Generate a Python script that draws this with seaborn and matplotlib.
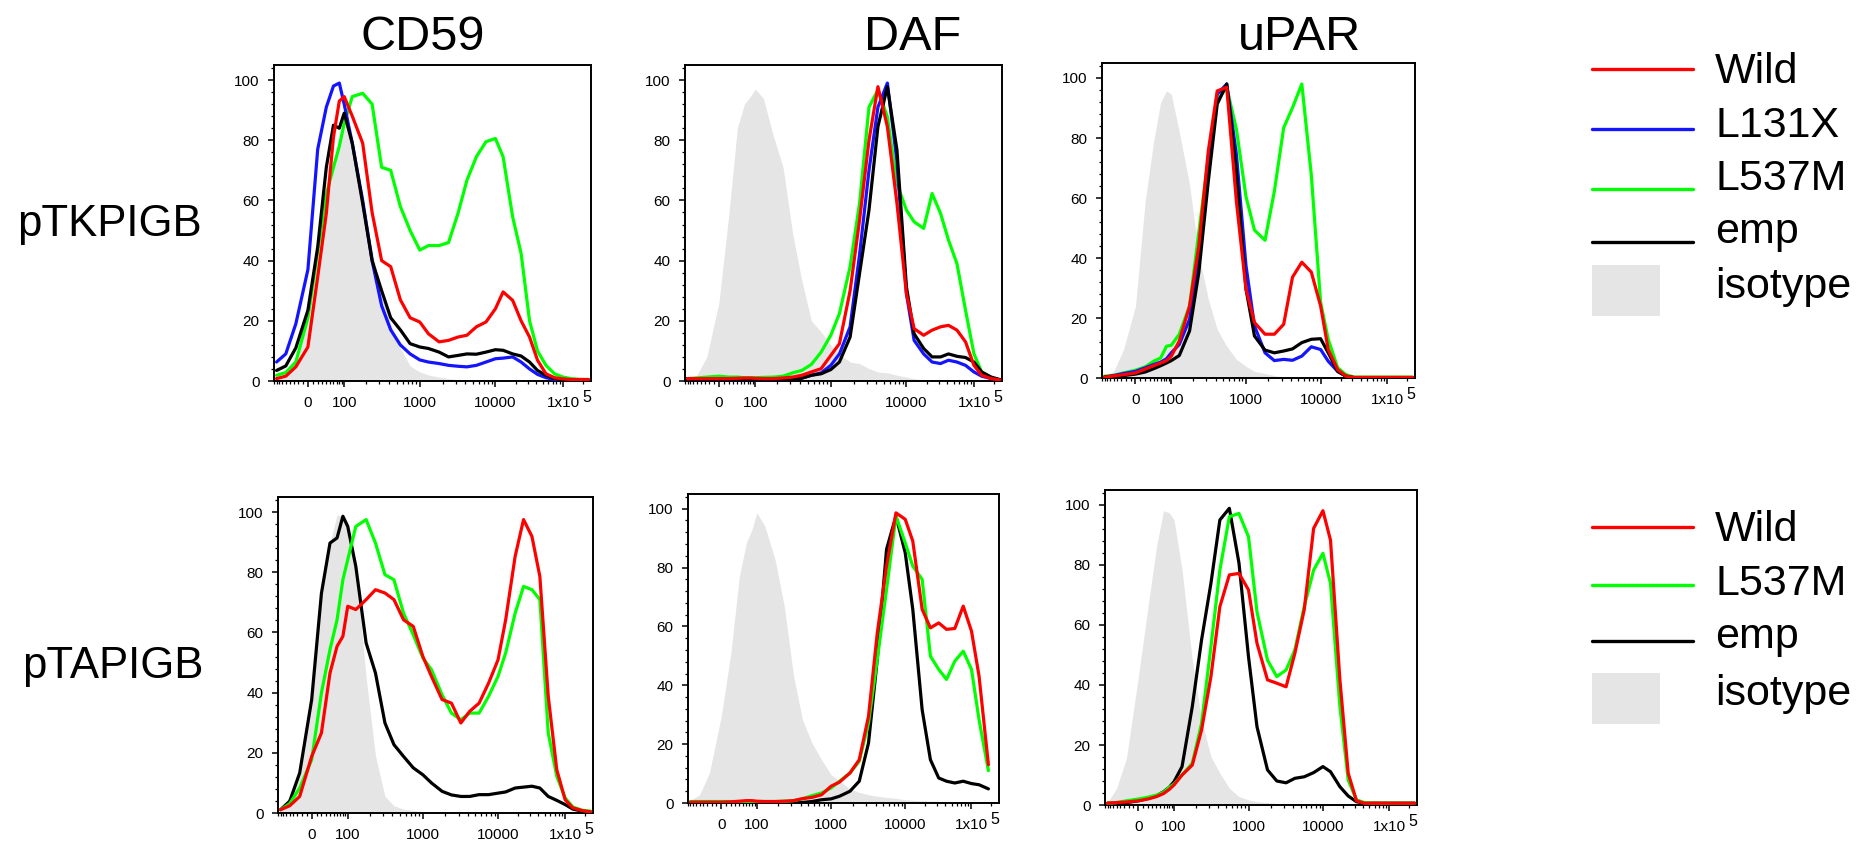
import numpy as np
import pandas as pd
import matplotlib
matplotlib.use("Agg")
import matplotlib.pyplot as plt
import seaborn as sns
from matplotlib.ticker import FixedLocator, FixedFormatter, MultipleLocator
from matplotlib.lines import Line2D
from matplotlib.patches import Rectangle
from matplotlib.transforms import blended_transform_factory, offset_copy

# ---------------- data ----------------
FLUOR = [-80, -50, -25, 0, 20, 40, 60, 80, 100, 130, 180, 240, 320, 420, 560, 750,
         1000, 1300, 1800, 2400, 3200, 4200, 5600, 7500, 10000, 13000, 18000, 24000,
         32000, 42000, 56000, 75000, 100000, 130000, 180000, 240000]

ANTIGENS = ["CD59", "DAF", "uPAR"]
VECTORS = ["pTKPIGB", "pTAPIGB"]
X_TICKS = [0, 100, 1000, 10000, 100000]
X_TICK_LABELS = ["0", "100", "1000", "10000", "1x10"]
Y_TICKS = [0, 20, 40, 60, 80, 100]

nan = np.nan

# pTKPIGB / CD59
TK_CD59_ISO = [0.5, 2, 7, 22, 40, 57, 71, 80, 85, 78, 58, 44, 28, 19, 11, 5, 3, 2, 1.3, 0.8,
               0.5, 0.3, 0.2, 0.1, 0, 0, 0, 0, 0, 0, 0, 0, 0, 0, 0, 0]
TK_CD59_WILD = [0.8, 1.6, 4.7, 11.3, 34.6, 55.7, 81, 93, 94.5, 88, 79, 56, 40, 38, 27, 21, 19.6,
                15.7, 13, 13.5, 14.6, 15.2, 18, 19.6, 24, 29.6, 26.8, 20, 14.6, 6.9, 2.4, 1.1,
                0.7, 0.5, 0.5, 0.5]
TK_CD59_L131X = [6.3, 9, 19, 37, 77, 91, 98, 99, 92, 79, 60, 40, 25, 17, 12, 9, 7, 6.3, 5.8,
                 5.2, 4.9, 4.7, 5.2, 6.3, 7.4, 7.6, 8, 6.3, 4, 2.2, 1.1, 0.5, 0.2, 0, 0, 0]
TK_CD59_L537M = [1.9, 2.8, 6.3, 21, 43, 62, 71, 78, 85.6, 94.5, 95.6, 92, 71, 70, 58, 50, 43.5,
                 45, 45, 46, 55.7, 66.7, 74.5, 79.5, 80.6, 74.5, 54.5, 42.4, 20, 10, 5.2, 2.4,
                 1.3, 0.8, 0.5, 0.5]
TK_CD59_EMP = [3.5, 5, 11, 23.5, 44.5, 71, 85, 84, 89, 79, 59, 40, 30, 21, 17, 12.4, 11.3, 10.8,
               9.6, 8, 8.5, 9, 8.9, 9.6, 10.4, 10.2, 9, 8.3, 6.3, 3.5, 1.9, 0.8, 0.4, 0.2, 0, 0]

# pTKPIGB / DAF
TK_DAF_ISO = [0.4, 1.9, 8, 26, 55, 84, 92, 94.5, 97, 94, 81, 71, 49, 33.5, 20, 16.3, 11.9, 9,
              6.3, 5.8, 4.1, 3, 2.7, 1.9, 1.3, 0.8, 0.4, 0, 0, 0, 0, 0, 0, 0, 0, 0]
TK_DAF_WILD = [0.8, 0.8, 0.8, 0.8, 0.8, 0.9, 1.0, 1.0, 0.9, 0.8, 0.8, 1.0, 1.3, 1.9, 3, 4.1,
               8.5, 12.4, 30, 53.4, 80, 97.8, 84.5, 59, 29, 17.4, 15.2, 16.9, 18, 18.5, 16.9,
               13, 5.2, 1.9, 0.8, 0.4]
TK_DAF_L131X = [0.8, 0.8, 0.8, 0.8, 0.8, 0.8, 0.8, 0.8, 0.8, 0.8, 0.8, 0.8, 0.9, 1.0, 1.9,
                2.7, 5.2, 9, 18, 42, 70, 91, 99, 73, 29, 13.5, 9, 6.3, 5.8, 6.9, 6.3, 5.2, 3,
                1.6, 0.8, 0.4]
TK_DAF_L537M = [0.8, 1, 1.3, 1.6, 1.3, 1.3, 1.1, 1.1, 1.1, 1.2, 1.3, 1.6, 2.7, 3.5, 5.5, 9.6,
                15.2, 22.4, 38, 59, 91, 96.7, 87.8, 65.6, 56.8, 52.9, 50.7, 62.3, 55.7, 46.8,
                39, 23.5, 9, 3, 1.1, 0.4]
TK_DAF_EMP = [0.8, 0.8, 0.8, 0.8, 0.8, 0.8, 0.8, 0.8, 0.8, 0.8, 0.8, 0.8, 0.8, 0.9, 1.9, 2.4,
              3.8, 6.3, 14.6, 35.7, 56.8, 84.5, 97.8, 76.7, 31.3, 15.7, 10.8, 8, 8, 9, 8.2,
              7.8, 6.3, 3, 1.3, 0.5]

# pTKPIGB / uPAR
TK_UPAR_ISO = [0.2, 2.2, 9.5, 24, 58.8, 79, 92, 95.7, 94.6, 82, 64.4, 40.9, 26.3, 16.2, 10.6,
               6.2, 3.9, 2.2, 1.5, 0.8, 0.3, 0, 0, 0, 0, 0, 0, 0, 0, 0, 0, 0, 0, 0, 0, 0]
TK_UPAR_WILD = [0.3, 0.7, 1.1, 1.7, 3, 4.1, 5, 5.8, 7.3, 12.3, 24, 44.2, 75.6, 95.7, 96.9,
                58.8, 29.7, 18.5, 14.6, 14.6, 17.9, 33.6, 38.6, 35.3, 24, 9.5, 2.8, 0.6, 0.2,
                0.2, 0.2, 0.2, 0.2, 0.2, 0.2, 0.2]
TK_UPAR_L131X = [0.3, 0.8, 1.5, 2.2, 3.4, 4.5, 5.3, 6.4, 8.4, 11.2, 19.6, 39.8, 67.7, 94.6, 98,
                 74.5, 37.5, 17.4, 8.4, 5.8, 6.2, 5.9, 7.3, 10.4, 9.5, 5.6, 2.2, 0.6, 0.1, 0.1,
                 0.1, 0.1, 0.1, 0.1, 0.1, 0.1]
TK_UPAR_L537M = [0.6, 0.9, 1.7, 2.6, 3.7, 5.6, 6.7, 10.6, 10.9, 14.6, 24, 48.7, 73.3, 92.4,
                 96.9, 82.9, 60.5, 49.3, 45.9, 62.2, 83.4, 90.1, 98, 67.7, 25.2, 12.9, 3.4, 1.1,
                 0.3, 0.3, 0.3, 0.3, 0.3, 0.3, 0.3, 0.3]
TK_UPAR_EMP = [0.3, 0.6, 0.8, 1.3, 2, 3.1, 4.1, 5, 5.8, 7.5, 15.7, 35.3, 65.5, 91.3, 98, 68.9,
               29.7, 14, 9.3, 8.4, 9, 9.7, 11.8, 12.9, 13.1, 8.4, 2.2, 0.6, 0.1, 0.1, 0.1, 0.1,
               0.1, 0.1, 0.1, 0.1]

# pTAPIGB / CD59
TA_CD59_ISO = [1.7, 5.5, 15, 41, 74, 89.7, 99.1, 98.3, 96.9, 82, 45, 19, 5.5, 2.4, 1.3, 0.8,
               0.5, 0.3, 0.2, 0.1, 0, 0, 0, 0, 0, 0, 0, 0, 0, 0, 0, 0, 0, 0, 0, 0]
TA_CD59_WILD = [1.1, 2.4, 5.5, 18.8, 26.6, 46.5, 55.4, 58.7, 68.7, 67.6, 70.9, 74.2, 73.1, 70.9,
                64.2, 62, 52, 45.4, 37.7, 36.5, 29.9, 33.8, 36.5, 43.2, 50.9, 64.2, 85.3, 97.5,
                91.9, 78.6, 38.8, 14.4, 4.4, 1.7, 0.8, 0.4]
TA_CD59_L537M = [1.1, 3.1, 8.3, 17.7, 39.9, 54.3, 64.2, 77.5, 84.2, 95.2, 97.5, 89.7, 79.2, 77.5,
                 66.4, 59.2, 51.5, 47.6, 39.3, 33.2, 31, 33.2, 33.2, 38.8, 45.4, 53.2, 66.4,
                 75.3, 74.2, 70.9, 26.6, 12.2, 5, 2, 0.9, 0.6]
TA_CD59_EMP = [1.1, 3.9, 13.3, 37.7, 73, 89.7, 91.4, 98.6, 95.2, 82, 56.5, 46.5, 29.9, 22.7,
               18.8, 15, 12.7, 10, 7.2, 6, 5.5, 5.5, 6.1, 6.1, 6.6, 7, 8.3, 8.6, 8.9, 8.3, 5.5,
               4.2, 2.8, 1.3, 0.6, 0.3]

# pTAPIGB / DAF
TA_DAF_ISO = [0.9, 2.8, 10.2, 29.5, 51, 77, 88.4, 93, 98.6, 94.1, 82.8, 66.9, 43.1, 28.3, 20.4,
              14.7, 9.6, 7.4, 4.8, 3.6, 2.8, 2.3, 1.9, 1.6, 1.1, 0.9, 0.8, 0.7, 0.6, 0.3, 0.2,
              0.1, 0, 0, 0, 0]
TA_DAF_WILD = [0.3, 0.3, 0.3, 0.3, 0.4, 0.6, 0.8, 0.8, 0.6, 0.5, 0.5, 0.6, 0.8, 1.5, 1.9, 2.8,
               5.7, 7.1, 10.2, 14.7, 29.5, 57.8, 80.5, 98.6, 96.4, 89, 65.8, 59.5, 61.2, 59,
               59.3, 66.9, 58.4, 43.1, 13, nan]
TA_DAF_L537M = [0.5, 0.5, 0.5, 0.5, 0.5, 0.5, 0.5, 0.5, 0.5, 0.5, 0.5, 0.6, 0.8, 1.4, 2.5, 3.4,
                5.1, 7.4, 10.2, 14.2, 27.2, 48.8, 72.6, 97.5, 88.4, 80.5, 76, 49.9, 45.4, 42,
                48.2, 51.6, 45.4, 28.3, 11, nan]
TA_DAF_EMP = [0.3, 0.3, 0.3, 0.3, 0.3, 0.3, 0.3, 0.3, 0.3, 0.3, 0.3, 0.3, 0.3, 0.2, 0.5, 1.1,
              1.4, 2.3, 4, 7.4, 20.4, 48.8, 86.2, 97.5, 85, 65.8, 31.7, 14.7, 8.5, 7.4, 6.8,
              7.4, 6.6, 6.2, 4.8, nan]

# pTAPIGB / uPAR
TA_UPAR_ISO = [0.8, 5.6, 15.6, 42.8, 66.1, 86.1, 98.1, 97.4, 95, 78.3, 48.3, 28.3, 16.1, 10.6,
               5.6, 2.8, 1.7, 1.1, 0.8, 0.6, 0.3, 0, 0, 0, 0, 0, 0, 0, 0, 0, 0, 0, 0, 0, 0, 0]
TA_UPAR_WILD = [0.6, 0.8, 1, 1.4, 2, 2.8, 3.8, 5.2, 6.7, 10, 13.3, 25, 42.8, 66.1, 76.7, 77.2,
                71.7, 53.9, 41.7, 40.6, 39.4, 50.6, 65, 92.2, 98.1, 88.3, 41.7, 10.6, 1.4, 0.6,
                0.6, 0.6, 0.6, 0.6, 0.6, 0.6]
TA_UPAR_L537M = [0.6, 0.8, 1.4, 2, 2.6, 3.3, 4.2, 5.9, 7, 10, 13.9, 27.2, 52.8, 78.3, 96.1,
                 97.2, 89.4, 64.4, 48.3, 42.8, 45, 51.7, 66.1, 78.3, 83.9, 73.9, 32.8, 8.3, 1.7,
                 0.8, 0.6, 0.6, 0.6, 0.6, 0.6, 0.6]
TA_UPAR_EMP = [0.6, 0.7, 0.8, 1.4, 2.2, 3.1, 4.4, 5.9, 7.8, 12.8, 32.8, 55, 73.9, 95, 98.9, 80.6,
               49.4, 26.1, 11.7, 8, 7.4, 8.9, 9.4, 10.8, 12.8, 11.1, 6.1, 3, 1.1, 0.6, 0.6, 0.6,
               0.6, 0.6, 0.6, 0.6]

PANELS = {
    (0, 0): (TK_CD59_ISO, {"L537M": TK_CD59_L537M, "L131X": TK_CD59_L131X, "emp": TK_CD59_EMP, "Wild": TK_CD59_WILD}),
    (0, 1): (TK_DAF_ISO, {"L537M": TK_DAF_L537M, "L131X": TK_DAF_L131X, "emp": TK_DAF_EMP, "Wild": TK_DAF_WILD}),
    (0, 2): (TK_UPAR_ISO, {"L537M": TK_UPAR_L537M, "L131X": TK_UPAR_L131X, "emp": TK_UPAR_EMP, "Wild": TK_UPAR_WILD}),
    (1, 0): (TA_CD59_ISO, {"emp": TA_CD59_EMP, "L537M": TA_CD59_L537M, "Wild": TA_CD59_WILD}),
    (1, 1): (TA_DAF_ISO, {"emp": TA_DAF_EMP, "L537M": TA_DAF_L537M, "Wild": TA_DAF_WILD}),
    (1, 2): (TA_UPAR_ISO, {"emp": TA_UPAR_EMP, "L537M": TA_UPAR_L537M, "Wild": TA_UPAR_WILD}),
}

COLORS = {"Wild": "#ff0000", "L131X": "#1414ff", "L537M": "#00ff00", "emp": "#000000"}
ISO_COLOR = "#e5e5e5"
LEGEND_ROWS = [["Wild", "L131X", "L537M", "emp"], ["Wild", "L537M", "emp"]]

# ---------------- style ----------------
sns.set_style("white")
plt.rcParams["font.family"] = ["Liberation Sans", "DejaVu Sans"]
plt.rcParams["text.color"] = "black"
plt.rcParams["axes.labelcolor"] = "black"
plt.rcParams["xtick.color"] = "black"
plt.rcParams["ytick.color"] = "black"

W, H = 1860, 846
fig = plt.figure(figsize=(W / 100, H / 100), dpi=100)

# axes boxes in pixels: left, top, right, bottom
BOXES = {(0, 0): (274, 65, 591, 381), (0, 1): (685, 65, 1002, 381), (0, 2): (1102, 63, 1415, 378),
         (1, 0): (278, 497, 593, 813), (1, 1): (688, 494, 999, 803), (1, 2): (1105, 490, 1417, 805)}

# biexponential-like display transform
A = 50.0
U_ANCH = np.array([-20.0, 0.0, np.arcsinh(2), np.arcsinh(20), np.arcsinh(200), np.arcsinh(2000), 20.0])
P_ANCH = np.array([-20 * 24.9, 0, 36, 111, 186, 253, 253 + (20 - np.arcsinh(2000)) * 29.1])


def fwd(x):
    x = np.asarray(x, dtype=float)
    return np.interp(np.arcsinh(x / A), U_ANCH, P_ANCH)


def inv(p):
    p = np.asarray(p, dtype=float)
    return A * np.sinh(np.interp(p, P_ANCH, U_ANCH))


minor_x = ([v for v in range(-90, 0, 10)] + [v for v in range(10, 100, 10)]
           + [m * 10 ** e for e in (2, 3, 4) for m in range(2, 10)] + [200000])

for (r, c), (iso, curves) in PANELS.items():
    l, t, rr, b = BOXES[(r, c)]
    ax = fig.add_axes([l / W, 1 - b / H, (rr - l) / W, (b - t) / H])
    ax.set_xscale("function", functions=(fwd, inv))
    ax.fill_between(FLUOR, 0, iso, color=ISO_COLOR, lw=0, zorder=1)
    rows = []
    for name, vals in curves.items():
        for xv, yv in zip(FLUOR, vals):
            rows.append({"fluor": xv, "pct": yv, "sample": name})
    df = pd.DataFrame(rows).dropna()
    sns.lineplot(data=df, x="fluor", y="pct", hue="sample", hue_order=list(curves.keys()),
                 palette=COLORS, estimator=None, lw=2.3, legend=False, ax=ax, zorder=3)
    ax.set_xlim(-90, 260000)
    ax.set_ylim(0, 105)
    ax.set_xlabel("")
    ax.set_ylabel("")
    ax.xaxis.set_major_locator(FixedLocator(X_TICKS))
    ax.xaxis.set_major_formatter(FixedFormatter(X_TICK_LABELS))
    ax.xaxis.set_minor_locator(FixedLocator(minor_x))
    ax.yaxis.set_major_locator(FixedLocator(Y_TICKS))
    ax.yaxis.set_minor_locator(MultipleLocator(4))
    ax.tick_params(axis="both", which="major", direction="out", length=4.5, width=1.1,
                   labelsize=11, bottom=True, left=True, top=False, right=False,
                   colors="black", labelcolor="black")
    ax.tick_params(axis="both", which="minor", direction="out", length=2.3, width=0.9,
                   bottom=True, left=True, top=False, right=False, colors="black")
    ax.tick_params(axis="x", which="major", pad=6.5)
    ax.tick_params(axis="y", which="major", pad=6)
    for sp in ax.spines.values():
        sp.set_visible(True)
        sp.set_color("black")
        sp.set_linewidth(1.4)
    tr = offset_copy(blended_transform_factory(ax.transData, ax.transAxes), fig=fig,
                     x=19, y=-21, units="dots")
    ax.text(100000, 0, "5", transform=tr, fontsize=11.5, ha="left", va="baseline", color="black")

# column titles
TITLE_X = [423, 913, 1299]
for name, xc in zip(ANTIGENS, TITLE_X):
    fig.text(xc / W, 1 - 50 / H, name, fontsize=35, ha="center", va="baseline", color="black")

# row labels
ROW_Y = [236, 678]
ROW_X = [109, 113]
for name, xc, yb in zip(VECTORS, ROW_X, ROW_Y):
    fig.text(xc / W, 1 - yb / H, name, fontsize=31.5, ha="center", va="baseline", color="black")

# legends
LEG_LINE_Y = [[69, 129, 189, 242], [527, 585, 641]]
LEG_PATCH_Y = [(265, 316), (673, 724)]
LEG_TEXT_Y = [[83, 137, 190, 243, 298], [541, 595, 648, 705]]
for ri in range(2):
    names = LEGEND_ROWS[ri]
    for name, yl, yt in zip(names, LEG_LINE_Y[ri], LEG_TEXT_Y[ri]):
        fig.add_artist(Line2D([1592 / W, 1693 / W], [1 - yl / H, 1 - yl / H],
                              transform=fig.transFigure, color=COLORS[name], lw=2.4))
        fig.text(1715 / W, 1 - yt / H, name, fontsize=31, ha="left", va="baseline", color="black")
    p0, p1 = LEG_PATCH_Y[ri]
    fig.add_artist(Rectangle((1592 / W, 1 - p1 / H), 68 / W, (p1 - p0) / H,
                             transform=fig.transFigure, color=ISO_COLOR, lw=0))
    fig.text(1715 / W, 1 - LEG_TEXT_Y[ri][-1] / H, "isotype", fontsize=31, ha="left",
             va="baseline", color="black")

fig.savefig("out.png", dpi=100)
